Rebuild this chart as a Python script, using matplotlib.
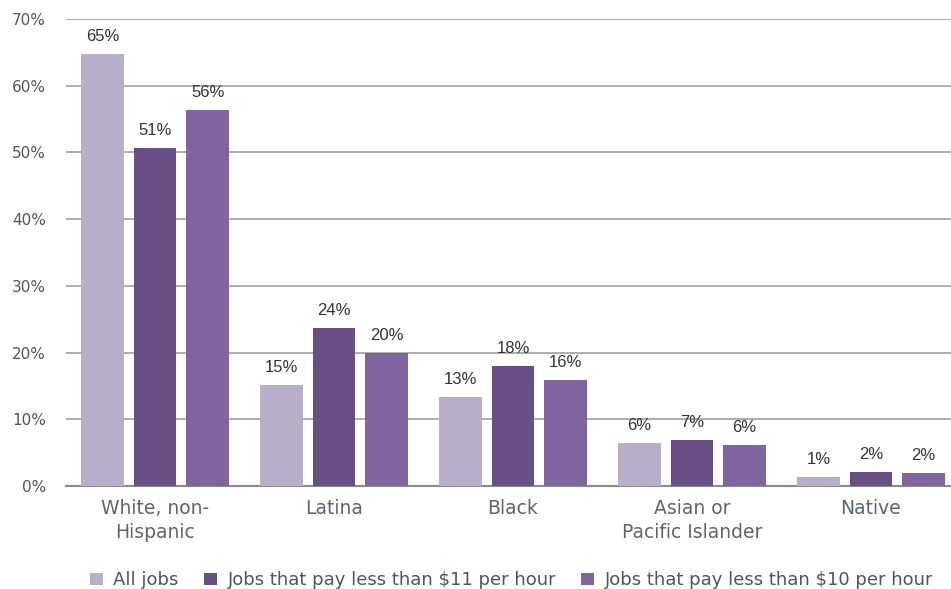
import matplotlib
matplotlib.use("Agg")
import matplotlib.pyplot as plt
import numpy as np

# categories and series
groups = ["White, non-\nHispanic", "Latina", "Black", "Asian or\nPacific Islander", "Native"]
series_names = ["All jobs",
                "Jobs that pay less than $11 per hour",
                "Jobs that pay less than $10 per hour"]
all_jobs = [64.8, 15.1, 13.3, 6.4, 1.3]
under_11 = [50.7, 23.7, 18.0, 6.9, 2.1]
under_10 = [56.4, 19.9, 15.9, 6.1, 1.9]
shown_labels = [[65, 15, 13, 6, 1], [51, 24, 18, 7, 2], [56, 20, 16, 6, 2]]
yticks = [0, 10, 20, 30, 40, 50, 60, 70]

colors = ["#b9aeca", "#674f86", "#8064a0"]

plt.rcParams['font.family'] = ['DejaVu Sans']

fig = plt.figure(figsize=(9.51, 5.89), dpi=100)
# axes run a little past the right edge, like the original
ax = fig.add_axes([65.5/951, 1 - 486/589, 895/951, (486-19)/589])

x = np.arange(len(groups))
width = 0.24
step = 0.294
data = [all_jobs, under_11, under_10]
handles = []
for i, vals in enumerate(data):
    pos = x + (i - 1) * step
    b = ax.bar(pos, vals, width, color=colors[i], label=series_names[i], zorder=3)
    handles.append(b)
    for p, v, lab in zip(pos, vals, shown_labels[i]):
        ax.text(p, v + 1.5, "%d%%" % lab, ha="center", va="bottom",
                fontsize=12, color="#333333", family=['Liberation Sans', 'DejaVu Sans'])

ax.set_xlim(-0.5, len(groups) - 0.5)
ax.set_ylim(0, 70)
ax.set_yticks(yticks)
ax.set_yticklabels(["%d%%" % t for t in yticks], fontsize=11, color="#555555")
ax.yaxis.grid(True, color="#a0a0a0", linewidth=1.2, zorder=0)
ax.set_axisbelow(True)
ax.tick_params(axis="y", length=0, pad=14)
ax.tick_params(axis="x", length=0, pad=9)
ax.set_xticks(x)
ax.set_xticklabels(groups, fontsize=13.5, color="#5a6670", linespacing=1.35)
for s in ["top", "right", "left"]:
    ax.spines[s].set_visible(False)
ax.spines["bottom"].set_color("#8a8a8a")
ax.spines["bottom"].set_linewidth(1.5)

fig.legend(handles=handles, loc="lower center", bbox_to_anchor=(0.538, -0.028),
           ncol=3, frameon=False, fontsize=13, handlelength=0.7, handleheight=0.7,
           handletextpad=0.6, columnspacing=1.4, labelcolor="#4a5660")

fig.savefig("out.png", dpi=100)
